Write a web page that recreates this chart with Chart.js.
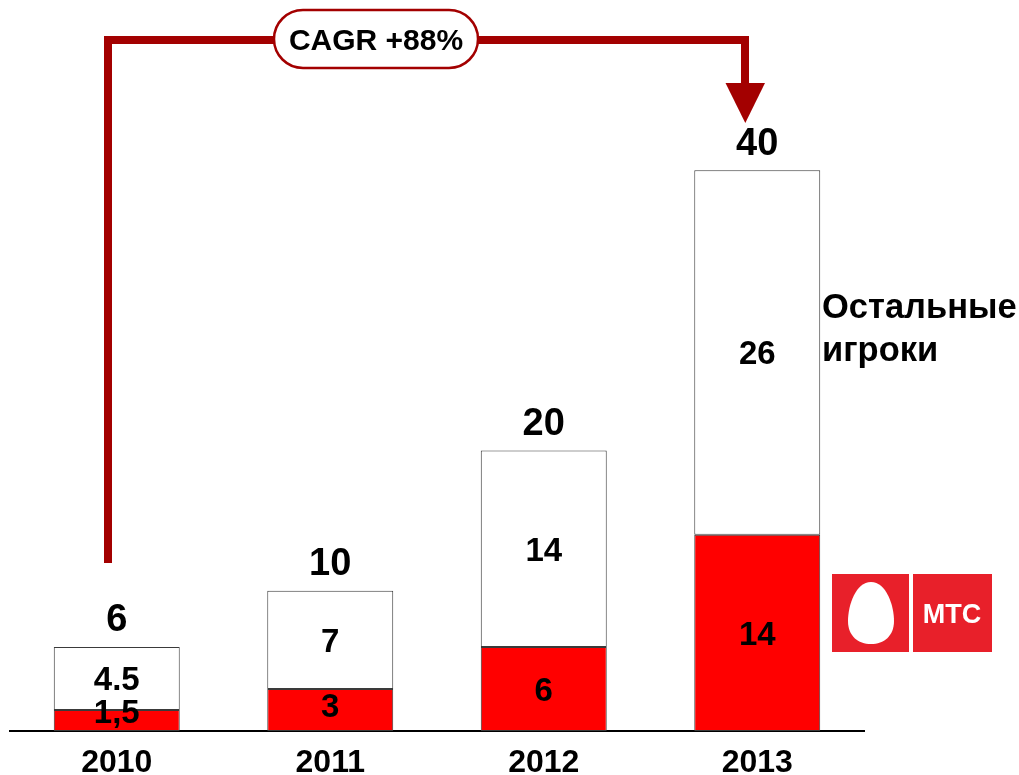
<!DOCTYPE html>
<html><head><meta charset="utf-8">
<script src="https://cdn.jsdelivr.net/npm/chart.js@4.4.1/dist/chart.umd.min.js"></script>
<style>html,body{margin:0;padding:0;background:#fff;}canvas{display:block;}</style>
</head><body>
<canvas id="c" width="1019" height="775"></canvas>
<script>
const categories = ['2010', '2011', '2012', '2013'];
const mtsValues = [1.5, 3, 6, 14];
const otherValues = [4.5, 7, 14, 26];
const totalValues = [6, 10, 20, 40];
const mtsLabels = ['1,5', '3', '6', '14'];
const otherLabels = ['4.5', '7', '14', '26'];
const cagrText = 'CAGR +88%';
const othersLegend = ['Остальные', 'игроки'];
const logoText = 'МТС';

const FONT = "'Liberation Sans', Arial, sans-serif";
Chart.defaults.font.family = FONT;

// draw text so that digit glyphs are visually centered on cy
function centerText(ctx, txt, x, cy, size) {
  ctx.font = 'bold ' + size + 'px ' + FONT;
  ctx.textBaseline = 'alphabetic';
  ctx.fillText(txt, x, cy + 0.358 * size);
}

const labelPlugin = {
  id: 'segLabels',
  afterDatasetsDraw(chart) {
    const ctx = chart.ctx;
    ctx.save();
    ctx.fillStyle = '#000';
    ctx.textAlign = 'center';
    const redOffsets = [-9, -5, 0, 0];
    const texts = [mtsLabels, otherLabels];
    chart.data.datasets.forEach((ds, di) => {
      const meta = chart.getDatasetMeta(di);
      meta.data.forEach((el, i) => {
        const p = el.getProps(['x', 'y', 'base'], true);
        let cy = (p.y + p.base) / 2;
        if (di === 0) cy += redOffsets[i];
        centerText(ctx, texts[di][i], p.x, cy, 33);
      });
    });
    const meta = chart.getDatasetMeta(1);
    meta.data.forEach((el, i) => {
      const p = el.getProps(['x', 'y'], true);
      centerText(ctx, String(totalValues[i]), p.x, p.y - 29, 38);
    });
    ctx.restore();
  }
};

const decoPlugin = {
  id: 'deco',
  afterDraw(chart) {
    const ctx = chart.ctx;
    ctx.save();
    ctx.strokeStyle = '#a30000';
    ctx.lineWidth = 8;
    ctx.lineJoin = 'miter';
    ctx.beginPath();
    ctx.moveTo(108, 563);
    ctx.lineTo(108, 40);
    ctx.lineTo(745, 40);
    ctx.lineTo(745, 86);
    ctx.stroke();
    ctx.fillStyle = '#a30000';
    ctx.beginPath();
    ctx.moveTo(725.5, 83);
    ctx.lineTo(765, 83);
    ctx.lineTo(745.3, 123);
    ctx.closePath();
    ctx.fill();
    ctx.beginPath();
    ctx.roundRect(274, 10, 204, 58, 29);
    ctx.fillStyle = '#fff';
    ctx.fill();
    ctx.lineWidth = 2.5;
    ctx.strokeStyle = '#a30000';
    ctx.stroke();
    ctx.fillStyle = '#000';
    ctx.textAlign = 'center';
    centerText(ctx, cagrText, 376, 39.5, 30);
    ctx.textAlign = 'left';
    ctx.textBaseline = 'alphabetic';
    ctx.font = 'bold 34.5px ' + FONT;
    ctx.fillText(othersLegend[0], 822, 318);
    ctx.fillText(othersLegend[1], 822, 361);
    ctx.fillStyle = '#e8202a';
    ctx.fillRect(832, 574, 160, 78);
    ctx.fillStyle = '#fff';
    ctx.fillRect(909, 574, 4, 78);
    ctx.beginPath();
    ctx.moveTo(871, 582);
    ctx.bezierCurveTo(886, 582, 894, 605, 894, 621);
    ctx.bezierCurveTo(894, 636, 884, 644, 871, 644);
    ctx.bezierCurveTo(858, 644, 848, 636, 848, 621);
    ctx.bezierCurveTo(848, 605, 856, 582, 871, 582);
    ctx.fill();
    ctx.textAlign = 'center';
    centerText(ctx, logoText, 952, 613, 27);
    ctx.restore();
  }
};

new Chart(document.getElementById('c'), {
  type: 'bar',
  data: {
    labels: categories,
    datasets: [
      { label: 'МТС', data: mtsValues, backgroundColor: '#ff0000', borderColor: '#3a3a3a', borderWidth: 1, borderSkipped: false },
      { label: 'Остальные игроки', data: otherValues, backgroundColor: '#ffffff', borderColor: '#3a3a3a', borderWidth: 1, borderSkipped: false }
    ]
  },
  options: {
    responsive: false,
    animation: false,
    devicePixelRatio: 1,
    layout: { padding: { left: 10, right: 155, top: 30, bottom: 0 } },
    datasets: { bar: { barPercentage: 0.59, categoryPercentage: 1 } },
    plugins: { legend: { display: false }, tooltip: { enabled: false } },
    scales: {
      x: {
        stacked: true,
        grid: { display: false, drawTicks: false },
        border: { display: true, color: '#000', width: 2 },
        ticks: { color: '#000', font: { size: 32, weight: 'bold' }, padding: 13 },
        afterFit(s) { s.height = 44; }
      },
      y: {
        stacked: true,
        display: false,
        min: 0,
        max: 50
      }
    }
  },
  plugins: [labelPlugin, decoPlugin]
});
</script>
</body></html>
